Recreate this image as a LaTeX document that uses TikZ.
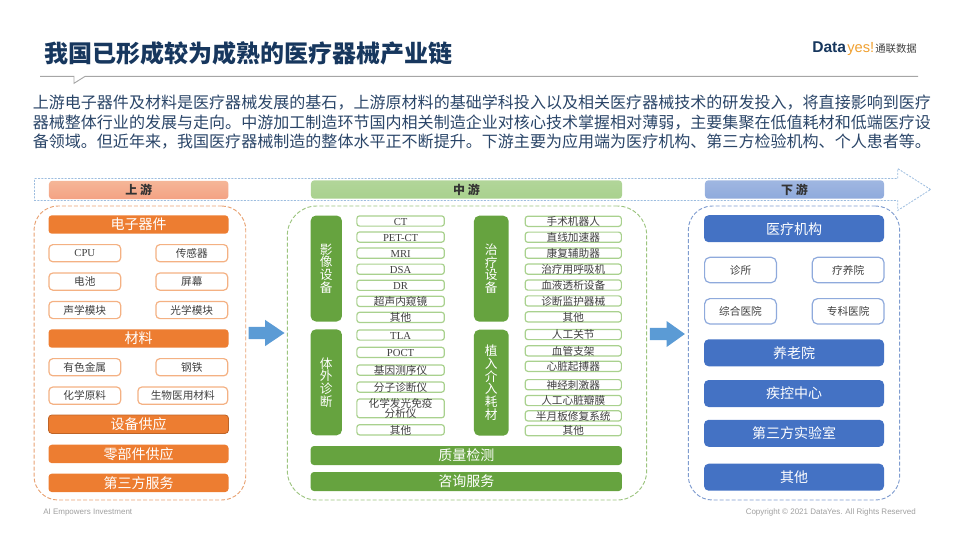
\documentclass[tikz,border=0pt]{standalone}
\usepackage{fontspec}
\usepackage{xcolor}
\usepackage{tikz}
\usetikzlibrary{shapes,shapes.arrows,positioning}
\setmainfont{Noto Sans CJK SC}
\newfontfamily\arialfont{Liberation Sans}
\newfontfamily\latfont{Liberation Serif}
\definecolor{navy}{HTML}{17375E}
\definecolor{bodyblue}{HTML}{2A4568}
\definecolor{itemtext}{HTML}{404040}
\definecolor{orgfill}{HTML}{ED7D31}
\definecolor{orgline}{HTML}{F4B183}
\definecolor{orgdash}{HTML}{E8A273}
\definecolor{orgtop}{HTML}{F5B698}
\definecolor{orgbot}{HTML}{F4A283}
\definecolor{grnfill}{HTML}{66A33F}
\definecolor{grnline}{HTML}{A9D18E}
\definecolor{grndash}{HTML}{9CC47F}
\definecolor{blufill}{HTML}{4472C4}
\definecolor{bluline}{HTML}{8FAADC}
\definecolor{bludash}{HTML}{7F9CCF}
\definecolor{flowblue}{HTML}{5B9BD5}
\definecolor{bandblue}{HTML}{9DBDDF}
\definecolor{logoorange}{HTML}{F0A030}
\begin{document}
\begin{tikzpicture}[
    x=.75pt, y=-.75pt,
    panel/.style={draw, dash pattern=on 3pt off 1.5pt, line width=.7pt, rounded corners=18pt, minimum height=220.5pt, inner sep=0pt},
    head/.style={rounded corners=2.5pt, minimum height=13.8pt, inner sep=0pt, text=black!80, font=\fontsize{9}{10}\selectfont\bfseries},
    flow/.style={single arrow, fill=flowblue, inner xsep=0pt, inner ysep=4.4pt, minimum height=27pt, minimum width=19.5pt},
    orgbar/.style={fill=orgfill, rounded corners=2.5pt, minimum width=135pt, minimum height=13.8pt, inner sep=0pt, text=white, font=\fontsize{10.5}{12}\selectfont},
    orgitem/.style={draw=orgline, fill=white, line width=.9pt, rounded corners=3pt, minimum width=53.85pt, minimum height=12.9pt, inner sep=0pt, text=itemtext, font=\fontsize{8}{9}\selectfont},
    grnbar/.style={fill=grnfill, rounded corners=2.5pt, minimum width=233.5pt, minimum height=14.25pt, inner sep=0pt, text=white, font=\fontsize{10.5}{12}\selectfont},
    grnside/.style={fill=grnfill, rounded corners=4pt, minimum height=79.5pt, inner sep=0pt, align=center, text=white, font=\fontsize{9.5}{9.5}\selectfont},
    grnitem/.style={draw=grnline, fill=white, line width=.9pt, rounded corners=2pt, minimum height=7.65pt, inner sep=0pt, text height=6.5pt, text depth=0pt, text=itemtext, font=\fontsize{8}{7}\selectfont},
    grnleft/.style={grnitem, minimum width=65.6pt},
    grnright/.style={grnitem, minimum width=72.1pt},
    blubar/.style={fill=blufill, rounded corners=3.5pt, minimum width=135pt, minimum height=20.25pt, inner sep=0pt, text=white, font=\fontsize{10.5}{12}\selectfont},
    bluitem/.style={draw=bluline, fill=white, line width=.9pt, rounded corners=4pt, minimum width=53.85pt, minimum height=19.1pt, inner sep=0pt, text=itemtext, font=\fontsize{8}{9}\selectfont}
]
    \useasboundingbox (0,0) rectangle (960,540);

    \node[anchor=west, inner sep=0pt, text=navy, font=\fontsize{18}{20}\selectfont\bfseries] (title) at (44,53) {我国已形成较为成熟的医疗器械产业链};
    \node[anchor=base west, inner sep=0pt, text=navy, font=\fontsize{11.7}{14}\selectfont\arialfont\bfseries] (logoa) at (812,52.5) {Data};
    \node[anchor=base west, inner sep=0pt, text=logoorange, font=\fontsize{11}{14}\selectfont\arialfont] (logob) at (847,52.5) {yes!};
    \node[anchor=west, inner sep=0pt, text=itemtext, font=\fontsize{7.8}{9}\selectfont] (logoc) at (875,48.5) {通联数据};
    \draw[gray!70, line width=.7pt] (40,76.4) -- (74,76.4) -- (74,83.3) -- (85,76.4) -- (918,76.4);

    \node[anchor=west, inner sep=0pt, align=left, text=bodyblue, font=\fontsize{12.03}{14.6}\selectfont] (intro) at (32.5,122.5) {上游电子器件及材料是医疗器械发展的基石，上游原材料的基础学科投入以及相关医疗器械技术的研发投入，将直接影响到医疗\\器械整体行业的发展与走向。中游加工制造环节国内相关制造企业对核心技术掌握相对薄弱，主要集聚在低值耗材和低端医疗设\\备领域。但近年来，我国医疗器械制造的整体水平正不断提升。下游主要为应用端为医疗机构、第三方检验机构、个人患者等。};

    \node[single arrow, draw=bandblue, dash pattern=on 1.5pt off 1pt, line width=.6pt, inner xsep=0pt, inner ysep=7.9pt, minimum height=672pt, minimum width=30.75pt, single arrow head extend=7.5pt, single arrow tip angle=65] (band) at (474,189.5) {};
    \node[head, top color=orgtop, bottom color=orgbot, minimum width=134.6pt] (up) at (138.7,190) {上 游};
    \node[head, top color=grnline!90!white, bottom color=grnline, minimum width=233.3pt] (mid) at (466.5,189.5) {中 游};
    \node[head, top color=bluline!85!white, bottom color=bluline, minimum width=134.3pt] (down) at (794.5,189.5) {下 游};

    \node[panel, draw=orgdash, minimum width=158.8pt] (uppanel) at (139.9,353) {};
    \node[panel, draw=grndash, minimum width=269.5pt, rounded corners=22pt] (midpanel) at (467,353) {};
    \node[panel, draw=bludash, minimum width=158.5pt] (downpanel) at (794,353) {};

    \node[flow, single arrow head extend=5.2pt, single arrow tip angle=68] (upflow) at (262,333) {};
    \node[flow, minimum height=26.25pt, single arrow head extend=5pt, single arrow tip angle=71] (downflow) at (663,334) {};

    \node[orgbar] (elec) at (138.5,224.5) {电子器件};
    \node[orgitem] (cpu) at (84.8,253.2) {\latfont CPU};
    \node[orgitem, right=25.5pt of cpu] (sensor) {传感器};
    \node[orgitem, below=7.5pt of cpu] (battery) {电池};
    \node[orgitem, right=25.5pt of battery] (screen) {屏幕};
    \node[orgitem, below=7.5pt of battery] (sound) {声学模块};
    \node[orgitem, right=25.5pt of sound] (optic) {光学模块};
    \node[orgbar] (material) at (138.5,338.5) {材料};
    \node[orgitem] (metal) at (84.8,367.2) {有色金属};
    \node[orgitem, right=25.5pt of metal] (steel) {钢铁};
    \node[orgitem, below=7.5pt of metal] (chem) {化学原料};
    \node[orgitem, right=12pt of chem, minimum width=67.35pt] (biomat) {生物医用材料};
    \node[orgbar, draw=orgfill!80!black, line width=.6pt] (equip) at (138.5,424.2) {设备供应};
    \node[orgbar, below=8pt of equip] (parts) {零部件供应};
    \node[orgbar, below=7.5pt of parts] (service) {第三方服务};

    \node[grnside, minimum width=23.5pt] (imaging) at (326.3,268.5) {影\\像\\设\\备};
    \node[grnside, minimum width=23.5pt] (ivd) at (326.3,382.3) {体\\外\\诊\\断};
    \node[grnside, minimum width=26pt] (therapy) at (491.3,268.7) {治\\疗\\设\\备};
    \node[grnside, minimum width=26pt] (implant) at (491.3,382.7) {植\\入\\介\\入\\耗\\材};

    \node[grnleft] (ct) at (400.6,221) {\latfont CT};
    \node[grnleft, below=3.5pt of ct] (petct) {\latfont PET-CT};
    \node[grnleft, below=3.5pt of petct] (mri) {\latfont MRI};
    \node[grnleft, below=3.5pt of mri] (dsa) {\latfont DSA};
    \node[grnleft, below=3.5pt of dsa] (dr) {\latfont DR};
    \node[grnleft, below=3.5pt of dr] (endo) {超声内窥镜};
    \node[grnleft, below=3.5pt of endo] (imgother) {其他};

    \node[grnleft] (tla) at (400.6,335) {\latfont TLA};
    \node[grnleft, below=4.5pt of tla] (poct) {\latfont POCT};
    \node[grnleft, below=4.7pt of poct] (gene) {基因测序仪};
    \node[grnleft, below=4.2pt of gene] (molec) {分子诊断仪};
    \node[grnleft, below=4.2pt of molec, minimum height=14.1pt, align=center, text height=13.2pt] (chemi) {化学发光免疫\\[-1pt]分析仪};
    \node[grnleft, below=4.3pt of chemi] (ivdother) {其他};

    \node[grnright] (robot) at (573.3,221.3) {手术机器人};
    \node[grnright, below=3.4pt of robot] (linac) {直线加速器};
    \node[grnright, below=3.4pt of linac] (rehab) {康复辅助器};
    \node[grnright, below=3.4pt of rehab] (vent) {治疗用呼吸机};
    \node[grnright, below=3.4pt of vent] (dialysis) {血液透析设备};
    \node[grnright, below=3.4pt of dialysis] (monitor) {诊断监护器械};
    \node[grnright, below=3.4pt of monitor] (thother) {其他};

    \node[grnright] (joint) at (573.3,334.5) {人工关节};
    \node[grnright, below=3.75pt of joint] (stent) {血管支架};
    \node[grnright, below=3pt of stent] (pacer) {心脏起搏器};
    \node[grnright, below=5.25pt of pacer] (neuro) {神经刺激器};
    \node[grnright, below=3.3pt of neuro] (valve) {人工心脏瓣膜};
    \node[grnright, below=3pt of valve] (menis) {半月板修复系统};
    \node[grnright, below=2.5pt of menis] (imother) {其他};

    \node[grnbar] (quality) at (466.3,455.5) {质量检测};
    \node[grnbar] (consult) at (466.3,481.5) {咨询服务};

    \node[blubar] (inst) at (794,228.7) {医疗机构};
    \node[bluitem] (clinic) at (740.5,270) {诊所};
    \node[bluitem, right=26pt of clinic] (sanat) {疗养院};
    \node[bluitem, below=11pt of clinic] (general) {综合医院};
    \node[bluitem, right=26pt of general] (special) {专科医院};
    \node[blubar] (nursing) at (794,352.8) {养老院};
    \node[blubar] (cdc) at (794,393.5) {疾控中心};
    \node[blubar] (lab) at (794,433.3) {第三方实验室};
    \node[blubar] (others) at (794,477.2) {其他};

    \node[anchor=west, inner sep=0pt, text=gray!75, font=\fontsize{6}{7}\selectfont\arialfont] (slogan) at (43,513) {AI Empowers Investment};
    \node[anchor=east, inner sep=0pt, text=gray!75, font=\fontsize{6}{7}\selectfont\arialfont] (copy) at (916,512) {Copyright © 2021 DataYes. All Rights Reserved};
\end{tikzpicture}
\end{document}
